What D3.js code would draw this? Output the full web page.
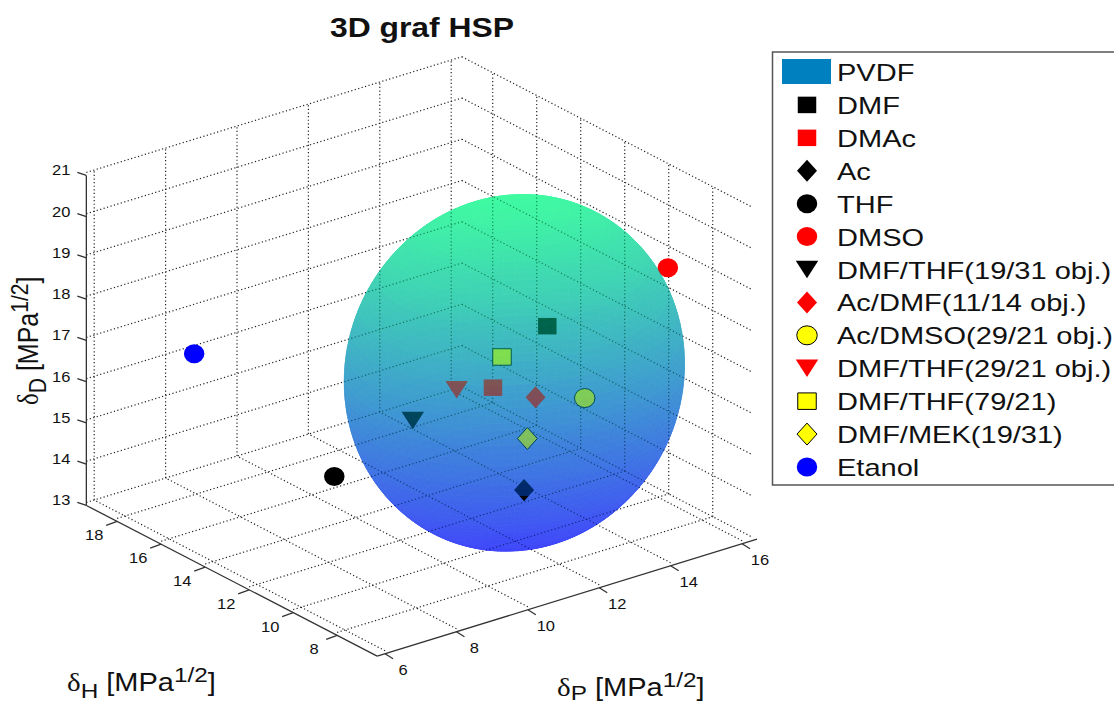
<!DOCTYPE html>
<html>
<head>
<meta charset="utf-8">
<script src="https://cdn.jsdelivr.net/npm/d3@7"></script>
<style>
  html, body { margin: 0; padding: 0; background: #fff; overflow: hidden; }
  svg { display: block; }
  text { font-family: "Liberation Sans", Arial, sans-serif; fill: #111; }
</style>
</head>
<body>
<div id="chart"></div>
<script>
// Solvents [MPa^1/2]
const solvents = ["DMF", "DMAc", "Ac", "THF", "DMSO", "DMF/THF(19/31 obj.)", "Ac/DMF(11/14 obj.)",
	"Ac/DMSO(29/21 obj.)", "DMF/THF(29/21 obj.)", "DMF/THF(79/21)", "DMF/MEK(19/31)", "Etanol"];
const deltaP = [13.7, 11.5, 10.4, 5.7, 16.4, 8.7, 12.2, 12.9, 10.3, 12.0, 10.8, 8.8];
const deltaH = [11.3, 10.2, 7.0, 8.0, 10.2, 9.3, 9.4, 8.3, 9.9, 10.6, 7.5, 19.4];
const deltaD = [17.4, 16.8, 15.5, 16.8, 18.4, 17.0, 16.6, 16.7, 17.15, 17.3, 16.5, 15.8];

// PVDF solubility sphere
const sphereName = "PVDF";
const sphereCenter = [12.1, 10.2, 17.0];
const sphereRadii = [3.96, 4.3, 4.02];

const ticksP = [6, 8, 10, 12, 14, 16];
const ticksH = [8, 10, 12, 14, 16, 18];
const ticksD = [13, 14, 15, 16, 17, 18, 19, 20, 21];
const limP = [5.78, 16.42];
const limH = [6.18, 19.4];
const limD = [13, 21];
const gridEndP = 16.3;

// marker style per solvent, same order as above
const shapes = ["square", "square", "diamond", "circle", "circle", "triangle", "diamond", "circle", "triangle", "square", "diamond", "circle"];
const fills = ["#000", "#f00", "#000", "#000", "#f00", "#000", "#f00", "#ff0", "#f00", "#ff0", "#ff0", "#00f"];
const edges = ["none", "none", "none", "none", "none", "none", "none", "#000", "none", "#000", "#000", "none"];

const width = 1114;
const height = 704;

const svg = d3.select("#chart").append("svg").attr("width", width).attr("height", height);

// The view is a parallel projection: each axis adds its own screen offset
const pX = d3.scaleLinear().domain([6, 16]).range([0, 357]);
const pY = d3.scaleLinear().domain([6, 16]).range([0, -110]);
const hX = d3.scaleLinear().domain([8, 18]).range([0, -220]);
const hY = d3.scaleLinear().domain([8, 18]).range([0, -114]);
const dY = d3.scaleLinear().domain([13, 21]).range([0, -330]);

function axisPoint(p, h, d) {
	return [345 + pX(p) + hX(h), 633 + pY(p) + hY(h) + dY(d)];
}

// grid and marks sit a bit above the drawn axis lines
function project(p, h, d) {
	const a = axisPoint(p, h, d);
	return [a[0], a[1] - 3];
}

function winter(t) {
	return d3.rgb(0, 255 * t, 255 * (1 - 0.5 * t));
}

function markerPath(shape, w, h) {
	if (shape === "circle") {
		const rx = w / 2, ry = h / 2;
		return `M${-rx},0A${rx},${ry} 0 1,1 ${rx},0A${rx},${ry} 0 1,1 ${-rx},0Z`;
	}
	const path = d3.path();
	if (shape === "square") {
		path.rect(-w / 2, -h / 2, w, h);
	} else if (shape === "diamond") {
		path.moveTo(0, -h / 2);
		path.lineTo(w / 2, 0);
		path.lineTo(0, h / 2);
		path.lineTo(-w / 2, 0);
		path.closePath();
	} else {
		path.moveTo(-w / 2, -h / 2);
		path.lineTo(w / 2, -h / 2);
		path.lineTo(0, h / 2);
		path.closePath();
	}
	return path.toString();
}

const markerSize = {
	square: [18.5, 16.5],
	diamond: [20, 22],
	triangle: [22.5, 17.5],
	circle: [20.5, 19]
};

function drawMarker(parent, i, x, y) {
	const [w, h] = markerSize[shapes[i]];
	return parent.append("path")
		.attr("d", markerPath(shapes[i], w, h))
		.attr("transform", `translate(${x},${y})`)
		.attr("fill", fills[i])
		.attr("stroke", edges[i])
		.attr("stroke-width", 1);
}

// Sphere mesh, faces split in the half facing away from us and the half facing us
const lat = 72;
const lon = 96;

// direction to the viewer in data units: the one that projects to nothing
const ux = pX(7) - pX(6), uy = pY(7) - pY(6);
const vx = hX(9) - hX(8), vy = hY(9) - hY(8);
const wy = dY(14) - dY(13);
const viewer = [-vx * wy, ux * wy, uy * vx - ux * vy];

const backFaces = [];
const frontFaces = [];
for (let i = 0; i < lat; i++) {
	const a0 = -Math.PI / 2 + Math.PI * i / lat;
	const a1 = -Math.PI / 2 + Math.PI * (i + 1) / lat;
	for (let j = 0; j < lon; j++) {
		const b0 = 2 * Math.PI * j / lon;
		const b1 = 2 * Math.PI * (j + 1) / lon;
		const corners = [[a0, b0], [a0, b1], [a1, b1], [a1, b0]].map(([a, b]) => project(
			sphereCenter[0] + sphereRadii[0] * Math.cos(a) * Math.cos(b),
			sphereCenter[1] + sphereRadii[1] * Math.cos(a) * Math.sin(b),
			sphereCenter[2] + sphereRadii[2] * Math.sin(a)
		));
		const am = (a0 + a1) / 2, bm = (b0 + b1) / 2;
		const n = [Math.cos(am) * Math.cos(bm), Math.cos(am) * Math.sin(bm), Math.sin(am)];
		const facing = n[0] * viewer[0] / sphereRadii[0] + n[1] * viewer[1] / sphereRadii[1] + n[2] * viewer[2] / sphereRadii[2];
		// 64 step colormap on height, like the original
		const t = Math.min(63, Math.floor((Math.sin(am) + 1) / 2 * 64)) / 63;
		(facing > 0 ? frontFaces : backFaces).push({ corners, color: winter(t).formatHex() });
	}
}

function drawFaces(faces) {
	svg.append("g")
		.attr("opacity", 0.5)
		.selectAll("path")
		.data(faces)
		.join("path")
		.attr("d", (d) => "M" + d.corners.join("L") + "Z")
		.attr("fill", (d) => d.color)
		.attr("stroke", (d) => d.color)
		.attr("stroke-width", 0.6);
}

drawFaces(backFaces);

// Grid
const grid = svg.append("g")
	.attr("fill", "none")
	.attr("stroke", "#222")
	.attr("stroke-width", 1.2)
	.attr("stroke-dasharray", "1.2 2.4");

function gridLine(from, to) {
	grid.append("line")
		.attr("x1", from[0]).attr("y1", from[1])
		.attr("x2", to[0]).attr("y2", to[1]);
}

ticksP.forEach((p) => {
	gridLine(project(p, limH[0], limD[0]), project(p, limH[1], limD[0]));
	gridLine(project(p, limH[1], limD[0]), project(p, limH[1], limD[1]));
});
ticksH.forEach((h) => {
	gridLine(project(limP[0], h, limD[0]), project(gridEndP, h, limD[0]));
	gridLine(project(gridEndP, h, limD[0]), project(gridEndP, h, limD[1]));
});
ticksD.forEach((d) => {
	gridLine(project(limP[0], limH[1], d), project(gridEndP, limH[1], d));
	gridLine(project(gridEndP, limH[1], d), project(gridEndP, limH[0], d));
});

// Markers go inside the sphere
const marks = svg.append("g");
solvents.forEach((name, i) => {
	const [x, y] = project(deltaP[i], deltaH[i], deltaD[i]);
	drawMarker(marks, i, x, y);
});

drawFaces(frontFaces);

// Tip of the Ac marker sticks out through the surface
const acIndex = solvents.indexOf("Ac");
const acPos = project(deltaP[acIndex], deltaH[acIndex], deltaD[acIndex]);
svg.append("clipPath").attr("id", "ac-tip").append("rect")
	.attr("x", acPos[0] - 12).attr("y", acPos[1] + 6)
	.attr("width", 24).attr("height", 8);
svg.append("g").attr("clip-path", "url(#ac-tip)").call((g) => drawMarker(g, acIndex, acPos[0], acPos[1]));

// Axes
const axes = svg.append("g").attr("stroke", "#333").attr("stroke-width", 1.3).attr("fill", "none");

function axisLine(from, to) {
	axes.append("line")
		.attr("x1", from[0]).attr("y1", from[1])
		.attr("x2", to[0]).attr("y2", to[1]);
}

function stretched(x, y, str, size, anchor) {
	return svg.append("text")
		.attr("transform", `translate(${x},${y}) scale(1.1,1)`)
		.attr("text-anchor", anchor || "middle")
		.attr("font-size", size)
		.text(str);
}

axisLine(axisPoint(limP[0], limH[0], limD[0]), axisPoint(limP[1], limH[0], limD[0]));
axisLine(axisPoint(limP[0], limH[0], limD[0]), axisPoint(limP[0], limH[1], limD[0]));
axisLine(axisPoint(limP[0], limH[1], limD[0]), axisPoint(limP[0], limH[1], limD[1]));

ticksP.forEach((p) => {
	const [x, y] = axisPoint(p, limH[0], limD[0]);
	axisLine([x, y], [x + 8, y + 5]);
	stretched(x + 18, y + 21, p, 15);
});
ticksH.forEach((h) => {
	const [x, y] = axisPoint(limP[0], h, limD[0]);
	axisLine([x, y], [x - 11, y + 4]);
	stretched(x - 23, y + 19, h, 15);
});
ticksD.forEach((d) => {
	const [x, y] = axisPoint(limP[0], limH[1], d);
	axisLine([x, y], [x - 9, y - 3]);
	stretched(x - 16, y, d, 15, "end");
});

// Title
svg.append("text")
	.attr("transform", "translate(422,37) scale(1.18,1)")
	.attr("text-anchor", "middle")
	.attr("font-size", 27)
	.attr("font-weight", "bold")
	.text("3D graf HSP");

// Axis labels, delta + subscript + [MPa^1/2]
function axisLabel(transform, sub, drop) {
	const label = svg.append("text").attr("transform", transform).attr("font-size", 25);
	label.append("tspan").style("font-family", "'Liberation Serif', serif").text("\u03b4");
	label.append("tspan").attr("dy", drop).attr("font-size", 21).text(sub);
	label.append("tspan").attr("dy", -drop).text(" [MPa");
	label.append("tspan").attr("dy", -9).attr("font-size", 21).text("1/2");
	label.append("tspan").attr("dy", 9).text("]");
}

axisLabel("translate(67,691) scale(1.16,1)", "H", 7);
axisLabel("translate(557,696) scale(1.16,1)", "P", 3.5);
axisLabel("translate(38,405) scale(1.16,1) rotate(-90)", "D", 7);

// Legend
const legend = svg.append("g");
legend.append("rect")
	.attr("x", 772.5).attr("y", 52)
	.attr("width", 360).attr("height", 433)
	.attr("fill", "#fff")
	.attr("stroke", "#555")
	.attr("stroke-width", 1.5);
legend.append("rect")
	.attr("x", 782).attr("y", 59)
	.attr("width", 49).attr("height", 25)
	.attr("fill", winter(0.5).formatHex());

const legendY = d3.scaleLinear().domain([0, 12]).range([72, 467]);

function legendText(str, y) {
	legend.append("text")
		.attr("transform", `translate(837,${y + 9}) scale(1.21,1)`)
		.attr("font-size", 24)
		.text(str);
}

legendText(sphereName, legendY(0));
solvents.forEach((name, i) => {
	drawMarker(legend, i, 807, legendY(i + 1));
	legendText(name, legendY(i + 1));
});
</script>
</body>
</html>
